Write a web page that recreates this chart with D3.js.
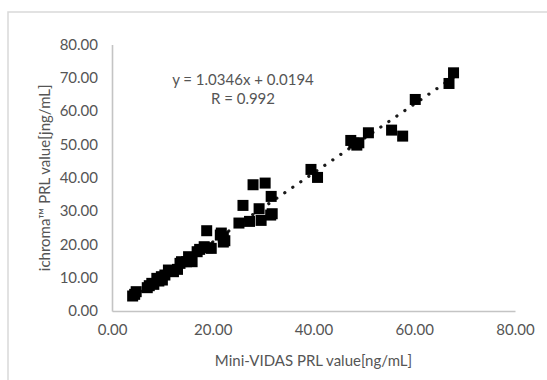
<!DOCTYPE html>
<meta charset="utf-8">
<script src="https://d3js.org/d3.v7.min.js"></script>
<style>
  body { margin: 0; background: #fff; }
  text { font-family: Lato, "Open Sans", sans-serif; fill: #555; }
</style>
<div id="my_dataviz"></div>
<script>

  // data (Mini-VIDAS vs ichroma PRL, ng/mL)
  var vidas = [4.1, 4.5, 4.8, 7.0, 7.4, 7.9, 8.3, 8.9, 9.3, 9.8, 10.0, 10.5, 11.2, 11.7, 12.2, 13.0,
    13.5, 13.8, 14.8, 15.2, 15.9, 16.9, 17.4, 18.3, 19.0, 19.7, 18.8, 21.7, 22.1, 22.4, 22.1, 21.5,
    25.2, 26.0, 27.3, 28.0, 29.2, 29.6, 30.4, 31.6, 31.8, 31.5, 39.5, 40.8, 47.4, 48.0, 48.6, 49.0,
    50.9, 55.5, 57.7, 60.2, 66.9, 67.8];
  var ichroma = [4.5, 5.0, 5.8, 7.0, 7.6, 8.3, 8.0, 9.8, 9.0, 10.3, 9.3, 10.8, 12.3, 12.0, 11.8, 12.5,
    14.3, 14.8, 14.8, 16.3, 14.8, 17.8, 18.5, 19.3, 19.0, 18.8, 24.1, 23.4, 22.3, 21.1, 20.7, 22.8,
    26.4, 31.7, 26.9, 37.9, 30.7, 27.2, 38.4, 34.4, 29.2, 28.8, 42.5, 40.1, 51.2, 50.4, 49.8, 50.5,
    53.5, 54.3, 52.5, 63.5, 68.3, 71.5];
  var xTicks = [0, 20, 40, 60, 80];
  var yTicks = [0, 10, 20, 30, 40, 50, 60, 70, 80];
  var slope = 1.0346, intercept = 0.0194;
  var equation = ["y = 1.0346x + 0.0194", "R = 0.992"];

  var W = 547, H = 380;
  var margin = {top: 44.5, right: 32, bottom: 69, left: 112};
  var width = W - margin.left - margin.right,
      height = H - margin.top - margin.bottom;

  var root = d3.select("#my_dataviz").append("svg")
    .attr("width", W).attr("height", H);

  // chart area border (runs off the right and bottom of the picture)
  root.append("rect")
    .attr("x", 8).attr("y", 12).attr("width", 600).attr("height", 420)
    .style("fill", "none").style("stroke", "#d9d9d9").style("stroke-width", 1.5);

  var svg = root.append("g")
    .attr("transform", "translate(" + margin.left + "," + margin.top + ")");

  var x = d3.scaleLinear().domain([0, 80]).range([0, width]);
  var y = d3.scaleLinear().domain([0, 80]).range([height, 0]);

  // axes
  var xAxis = svg.append("g")
    .attr("transform", "translate(0," + height + ")")
    .call(d3.axisBottom(x).tickValues(xTicks).tickSize(0).tickPadding(13)
      .tickFormat(d3.format(".2f")));
  var yAxis = svg.append("g")
    .call(d3.axisLeft(y).tickValues(yTicks).tickSize(0).tickPadding(14)
      .tickFormat(d3.format(".2f")));
  [xAxis, yAxis].forEach(function(a) {
    a.select(".domain").style("stroke", "#c4c4c4").style("stroke-width", 1.6);
    a.selectAll("text").style("font-size", "15px").style("fill", "#555")
      .style("font-family", "Lato, sans-serif");
  });

  // axis titles
  svg.append("text")
    .attr("x", width / 2).attr("y", height + 55)
    .style("text-anchor", "middle").style("font-size", "15px")
    .text("Mini-VIDAS PRL value[ng/mL]");
  svg.append("text")
    .attr("transform", "translate(" + (45 - margin.left + 5) + "," + (height / 2) + ") rotate(-90)")
    .style("text-anchor", "middle").style("font-size", "15px")
    .text("ichroma\u2122 PRL value[jng/mL]");

  // trend line, dotted
  var xmin = d3.min(vidas), xmax = d3.max(vidas);
  svg.append("line")
    .attr("x1", x(xmin)).attr("y1", y(slope * xmin + intercept))
    .attr("x2", x(xmax)).attr("y2", y(slope * xmax + intercept))
    .style("stroke", "#1a1a1a").style("stroke-width", 3.2)
    .style("stroke-linecap", "round").style("stroke-dasharray", "0.1 9.6");

  // points
  var s = 11;
  svg.selectAll("rect.pt")
    .data(d3.range(vidas.length))
    .enter()
    .append("rect")
      .attr("class", "pt")
      .attr("x", function(i) { return x(vidas[i]) - s / 2; })
      .attr("y", function(i) { return y(ichroma[i]) - s / 2; })
      .attr("width", s).attr("height", s)
      .style("fill", "#000");

  // equation label
  svg.append("text")
    .attr("x", x(26)).attr("y", y(70) + 7)
    .style("text-anchor", "middle").style("font-size", "15px")
    .selectAll("tspan").data(equation).enter()
    .append("tspan")
      .attr("x", x(26)).attr("dy", function(d, i) { return i ? 19 : 0; })
      .text(function(d) { return d; });

</script>
